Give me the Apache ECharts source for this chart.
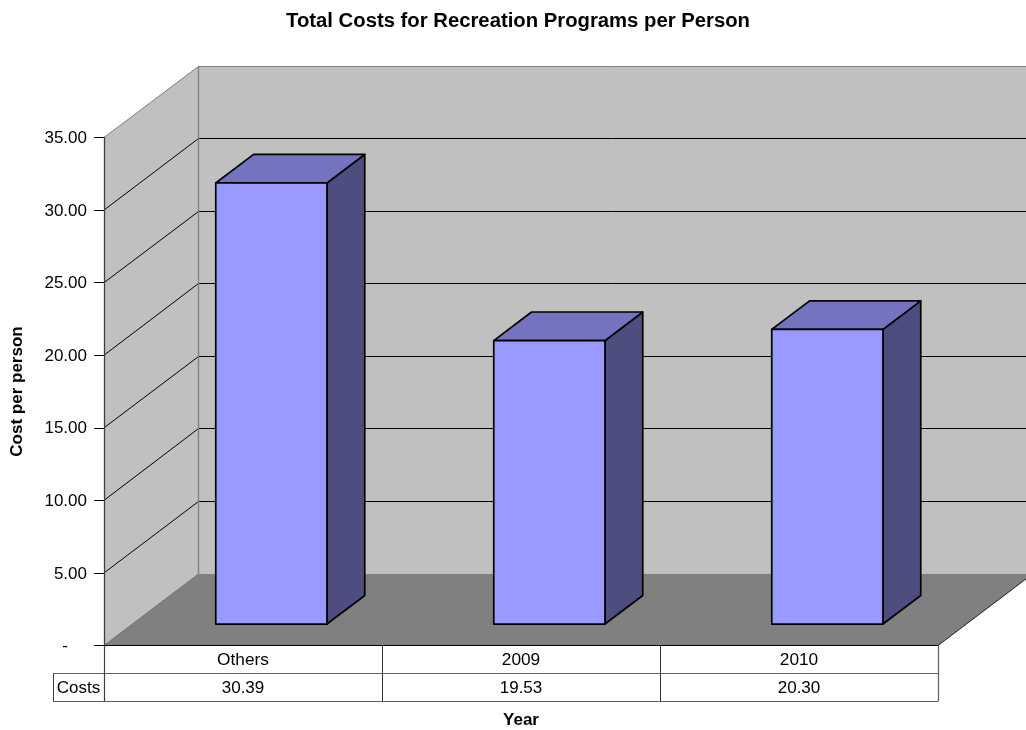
<!DOCTYPE html>
<html><head><meta charset="utf-8">
<style>html,body{margin:0;padding:0;background:#fff}#c{width:1026px;height:730px}</style>
<script src="https://cdn.jsdelivr.net/npm/echarts@6/dist/echarts.min.js"></script>
</head><body><div id="c"></div>
<script>
const categories = ['Others', '2009', '2010'];
const costs = [30.39, 19.53, 20.30];
const costLabels = ['30.39', '19.53', '20.30'];
const seriesName = 'Costs';
const yLevels = [0, 5, 10, 15, 20, 25, 30, 35];
const titleText = 'Total Costs for Recreation Programs per Person';

const FONT = '"Liberation Sans", Arial, sans-serif';
const DX = 94.5, DY = -71.5, ROW = 28, KEY_W = 51;
const LBL = 17;

const chart = echarts.init(document.getElementById('c'), null, {renderer: 'canvas'});
const crisp = v => Math.round(v - 0.5) + 0.5;
const line = (x1, y1, x2, y2, stroke, lineWidth) => ({
  type: 'line', shape: {x1, y1, x2, y2}, style: {stroke, lineWidth: lineWidth || 1}, silent: true
});
const poly = (points, fill, stroke, lineWidth) => ({
  type: 'polygon', shape: {points},
  style: {fill, stroke: stroke || null, lineWidth: lineWidth || 0, lineJoin: 'round'}, silent: true
});
const text = (x, y, t) => ({
  type: 'text', x, y, silent: true,
  style: {text: t, fill: '#000', font: LBL + 'px ' + FONT, align: 'center', verticalAlign: 'middle'}
});
function frame(api) {
  const n = categories.length;
  const band = api.size([1, 0])[0];
  const c0 = api.coord([0, 0]);
  const t = api.coord([0, 35]);
  return {n, band, L: c0[0] - band / 2, R: c0[0] - band / 2 + band * n, B: c0[1], T: t[1]};
}

function renderBox(params, api) {
  const v = [];
  const {L, R, B, T} = frame(api);
  v.push(poly([[L, B], [L, T], [L + DX, T + DY], [L + DX, B + DY]], '#c0c0c0'));
  v.push(poly([[L + DX, B + DY], [L + DX, T + DY], [R + DX, T + DY], [R + DX, B + DY]], '#c0c0c0'));
  v.push(poly([[L, B], [L + DX, B + DY], [R + DX, B + DY], [R, B]], '#808080'));
  yLevels.forEach(l => {
    const y = api.coord([0, l])[1];
    if (l === 0) return;
    const c = l === 35 ? '#808080' : '#000';
    const by = crisp(y + DY);
    v.push(line(L, y, L + DX, by, c));
    v.push(line(L + DX, by, R + DX, by, c));
  });
  v.push(line(crisp(L + DX), T + DY, crisp(L + DX), B + DY, '#808080', 1.3));
  v.push(line(L, B, L + DX, B + DY, '#707070'));
  v.push(line(R, B, R + DX, B + DY, '#202020'));
  return {type: 'group', children: v};
}

function renderBar(params, api) {
  const i = api.value(0), val = api.value(1);
  const base = api.coord([i, 0]), top = api.coord([i, val]);
  const w = api.size([1, 0])[0] * 0.4;
  const x0 = base[0] - w / 2 + DX * 0.3, x1 = x0 + w;
  const yb = base[1] + DY * 0.3, yt = top[1] + DY * 0.3;
  const dx = DX * 0.4, dy = DY * 0.4;
  const s = '#000';
  return {type: 'group', children: [
    poly([[x1, yb], [x1 + dx, yb + dy], [x1 + dx, yt + dy], [x1, yt]], '#4d4d80', s, 1.7),
    poly([[x0, yt], [x0 + dx, yt + dy], [x1 + dx, yt + dy], [x1, yt]], '#7373bf', s, 1.7),
    poly([[x0, yb], [x0, yt], [x1, yt], [x1, yb]], '#9999ff', s, 1.7)
  ]};
}

function renderTable(params, api) {
  const {n, band, L, R, B} = frame(api);
  const c = '#606060';
  const r1 = crisp(B + ROW), r2 = crisp(B + 2 * ROW);
  const kids = [
    line(L - KEY_W, r1, R, r1, c, 1.2),
    line(L - KEY_W, r2, R, r2, c, 1.2),
    line(crisp(L - KEY_W), r1, crisp(L - KEY_W), r2, '#404040'),
    line(crisp(L), B, crisp(L), r2, '#404040', 1.2),
    line(crisp(R), B, crisp(R), r2, c, 1.2),
    text(L - KEY_W / 2, B + 1.5 * ROW + 1, seriesName)
  ];
  categories.forEach((cat, i) => {
    const x = api.coord([i, 0])[0];
    if (i > 0) kids.push(line(crisp(x - band / 2), B, crisp(x - band / 2), r2, '#303030'));
    kids.push(text(x, B + 1.5 * ROW + 1, costLabels[i]));
  });
  return {type: 'group', children: kids};
}

chart.setOption({
  animation: false,
  backgroundColor: '#fff',
  title: {
    text: titleText, left: 513, top: 6, textAlign: 'center',
    textStyle: {fontFamily: FONT, fontSize: 20.3, fontWeight: 'bold', color: '#000'}
  },
  grid: {left: 104, right: 88, top: 137.5, bottom: 84.5, containLabel: false, outerBoundsMode: 'none'},
  xAxis: {
    type: 'category', data: categories, z: 5,
    name: 'Year', nameLocation: 'middle', nameGap: 66,
    nameTextStyle: {fontFamily: FONT, fontSize: 17, fontWeight: 'bold', color: '#000'},
    axisLine: {show: true, lineStyle: {color: '#000', width: 1.2}},
    axisTick: {show: false},
    axisLabel: {fontFamily: FONT, fontSize: 17.3, color: '#000', margin: 6.5, interval: 0},
    splitLine: {show: false}
  },
  yAxis: {
    type: 'value', min: 0, max: 35, interval: 5, z: 5,
    name: 'Cost per person', nameLocation: 'middle', nameGap: 78, nameRotate: 90,
    nameTextStyle: {fontFamily: FONT, fontSize: 17, fontWeight: 'bold', color: '#000'},
    axisLine: {show: true, onZero: false, lineStyle: {color: '#404040', width: 1.3}},
    axisTick: {show: true, length: 10, lineStyle: {color: '#000', width: 1}},
    axisLabel: {
      fontFamily: FONT, fontSize: LBL, color: '#000', margin: 17,
      formatter: v => v === 0 ? '{d|-}' : '{n|' + v.toFixed(2) + '}',
      rich: {
        n: {fontFamily: FONT, fontSize: LBL, color: '#000', padding: [2, 0, 0, 0]},
        d: {fontFamily: FONT, fontSize: LBL, color: '#000', padding: [2, 19, 0, 0]}
      }
    },
    splitLine: {show: false}
  },
  series: [
    {type: 'custom', name: 'box', renderItem: renderBox, data: [[0, 0]], z: 1, silent: true, clip: false, encode: {x: 0, y: 1}},
    {type: 'custom', name: seriesName, renderItem: renderBar, z: 2, silent: true, clip: false,
     data: costs.map((c, i) => [i, c]), encode: {x: 0, y: 1}},
    {type: 'custom', name: 'table', renderItem: renderTable, data: [[0, 0]], z: 3, silent: true, clip: false, encode: {x: 0, y: 1}}
  ]
});
</script></body></html>
